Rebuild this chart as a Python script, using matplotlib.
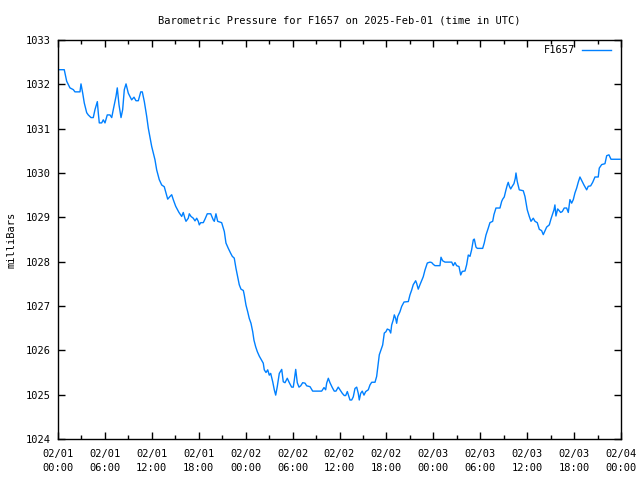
import matplotlib
matplotlib.use("Agg")
import matplotlib.pyplot as plt
import matplotlib.dates as mdates
import numpy as np
import pandas as pd

# Data: hours after 2025-02-01 00:00 UTC, pressure in millibars
hours = [0.00, 0.80, 1.11, 1.53, 1.96, 2.17, 2.81, 2.94, 3.16, 3.36, 3.67, 3.87, 4.22, 4.51,
         4.73, 5.03, 5.15, 5.28, 5.59, 5.79, 6.01, 6.30, 6.65, 6.87, 7.07, 7.42, 7.58, 7.80,
         8.06, 8.27, 8.48, 8.70, 8.99, 9.42, 9.72, 9.97, 10.27, 10.58, 10.78, 11.04, 11.34,
         11.55, 11.98, 12.40, 12.62, 12.95, 13.26, 13.59, 13.81, 14.03, 14.32, 14.54, 14.74,
         15.05, 15.47, 15.82, 16.02, 16.24, 16.37, 16.66, 16.79, 17.01, 17.30, 17.52, 17.74,
         17.94, 18.07, 18.25, 18.58, 18.80, 19.09, 19.53, 19.86, 19.99, 20.20, 20.42, 20.93,
         21.27, 21.48, 21.78, 22.08, 22.29, 22.54, 22.76, 22.98, 23.18, 23.40, 23.70, 23.82,
         24.04, 24.26, 24.46, 24.68, 24.90, 25.06, 25.28, 25.49, 25.74, 25.96, 26.25, 26.38,
         26.60, 26.82, 27.02, 27.20, 27.46, 27.66, 27.84, 28.04, 28.30, 28.61, 28.81, 29.03,
         29.32, 29.58, 29.88, 30.09, 30.22, 30.40, 30.60, 30.82, 31.04, 31.29, 31.59, 31.80,
         32.23, 32.57, 33.08, 33.72, 34.02, 34.23, 34.36, 34.57, 34.78, 35.08, 35.33, 35.55,
         35.84, 36.06, 36.36, 36.61, 36.79, 37.00, 37.21, 37.34, 37.56, 37.76, 37.98, 38.20,
         38.40, 38.53, 38.71, 38.91, 39.13, 39.35, 39.68, 39.90, 40.12, 40.54, 40.75, 40.88,
         41.09, 41.30, 41.52, 41.73, 41.94, 42.11, 42.37, 42.55, 42.67, 42.88, 43.01, 43.18,
         43.31, 43.44, 43.73, 43.95, 44.25, 44.80, 45.01, 45.23, 45.43, 45.74, 45.87, 46.07,
         46.29, 46.71, 46.93, 47.23, 47.57, 47.79, 47.99, 48.21, 48.85, 48.98, 49.19, 49.49,
         50.35, 50.55, 50.77, 50.98, 51.28, 51.50, 51.70, 52.05, 52.26, 52.47, 52.69, 52.90,
         53.11, 53.24, 53.45, 53.62, 54.31, 54.51, 54.73, 55.03, 55.24, 55.59, 55.75, 56.01,
         56.52, 56.74, 56.87, 57.07, 57.29, 57.46, 57.58, 57.71, 57.89, 58.09, 58.31, 58.48,
         58.57, 58.73, 58.99, 59.50, 59.72, 60.01, 60.27, 60.49, 60.78, 61.00, 61.29, 61.55,
         61.85, 62.06, 62.28, 62.49, 62.83, 63.04, 63.26, 63.43, 63.55, 63.68, 63.90, 64.10,
         64.28, 64.49, 64.74, 65.05, 65.26, 65.47, 65.69, 65.90, 66.11, 66.33, 66.53, 66.75,
         66.97, 67.26, 67.61, 67.81, 68.12, 68.38, 68.67, 69.09, 69.22, 69.53, 69.95, 70.17,
         70.46, 70.72, 71.87]
pressure = [1032.33, 1032.33, 1032.07, 1031.92, 1031.88, 1031.83, 1031.83, 1032.01, 1031.80,
            1031.58, 1031.36, 1031.31, 1031.25, 1031.25, 1031.43, 1031.61, 1031.36, 1031.13,
            1031.13, 1031.20, 1031.13, 1031.31, 1031.31, 1031.25, 1031.43, 1031.73, 1031.92,
            1031.54, 1031.25, 1031.43, 1031.88, 1032.01, 1031.80, 1031.65, 1031.71, 1031.63,
            1031.63, 1031.83, 1031.83, 1031.61, 1031.28, 1031.01, 1030.60, 1030.30, 1030.07,
            1029.85, 1029.73, 1029.69, 1029.55, 1029.41, 1029.47, 1029.51, 1029.40, 1029.25,
            1029.11, 1029.02, 1029.11, 1028.97, 1028.91, 1028.98, 1029.08, 1029.02, 1028.98,
            1028.92, 1028.98, 1028.91, 1028.83, 1028.88, 1028.88, 1028.96, 1029.08, 1029.08,
            1028.94, 1028.91, 1029.08, 1028.91, 1028.88, 1028.68, 1028.42, 1028.30, 1028.19,
            1028.12, 1028.08, 1027.85, 1027.66, 1027.48, 1027.38, 1027.35, 1027.25, 1027.02,
            1026.87, 1026.72, 1026.61, 1026.42, 1026.23, 1026.08, 1025.97, 1025.87, 1025.80,
            1025.71, 1025.56, 1025.50, 1025.56, 1025.44, 1025.48, 1025.29, 1025.11, 1024.99,
            1025.18, 1025.48, 1025.57, 1025.29, 1025.27, 1025.37, 1025.27, 1025.17, 1025.17,
            1025.33, 1025.57, 1025.27, 1025.17, 1025.20, 1025.27, 1025.26, 1025.20, 1025.18,
            1025.08, 1025.08, 1025.08, 1025.16, 1025.11, 1025.26, 1025.37, 1025.27, 1025.16,
            1025.08, 1025.08, 1025.17, 1025.11, 1025.03, 1024.98, 1024.98, 1025.07, 1024.95,
            1024.88, 1024.88, 1024.95, 1025.14, 1025.17, 1025.03, 1024.88, 1025.03, 1025.08,
            1024.99, 1025.07, 1025.11, 1025.22, 1025.28, 1025.28, 1025.41, 1025.60, 1025.90,
            1026.01, 1026.12, 1026.39, 1026.42, 1026.48, 1026.46, 1026.39, 1026.57, 1026.69,
            1026.80, 1026.72, 1026.61, 1026.76, 1026.87, 1026.99, 1027.09, 1027.10, 1027.25,
            1027.36, 1027.48, 1027.57, 1027.51, 1027.38, 1027.48, 1027.66, 1027.81, 1027.97,
            1027.99, 1027.98, 1027.94, 1027.91, 1027.91, 1028.10, 1028.02, 1027.99, 1027.99,
            1027.91, 1027.98, 1027.91, 1027.89, 1027.70, 1027.78, 1027.79, 1027.93, 1028.15,
            1028.12, 1028.27, 1028.49, 1028.51, 1028.33, 1028.30, 1028.30, 1028.42, 1028.60,
            1028.76, 1028.88, 1028.91, 1029.06, 1029.21, 1029.21, 1029.36, 1029.41, 1029.46,
            1029.62, 1029.73, 1029.79, 1029.71, 1029.64, 1029.70, 1029.76, 1029.88, 1030.00,
            1029.81, 1029.62, 1029.60, 1029.47, 1029.17, 1029.02, 1028.91, 1028.98, 1028.91,
            1028.88, 1028.73, 1028.70, 1028.61, 1028.70, 1028.78, 1028.83, 1028.96, 1029.08,
            1029.17, 1029.28, 1029.03, 1029.19, 1029.15, 1029.11, 1029.13, 1029.21, 1029.21,
            1029.11, 1029.40, 1029.32, 1029.40, 1029.55, 1029.66, 1029.79, 1029.91, 1029.83,
            1029.73, 1029.62, 1029.70, 1029.71, 1029.79, 1029.91, 1029.91, 1030.11, 1030.19,
            1030.21, 1030.39, 1030.41, 1030.31, 1030.31]

series_name = "F1657"
title = "Barometric Pressure for F1657 on 2025-Feb-01 (time in UTC)"
y_label = "milliBars"
start = pd.Timestamp("2025-02-01 00:00")
end = pd.Timestamp("2025-02-04 00:00")
y_min, y_max = 1024, 1033

times = start + pd.to_timedelta(hours, unit="h")

FONT = "DejaVu Sans Mono"
FS = 7.5

fig = plt.figure(figsize=(6.4, 4.8), dpi=100)
ax = fig.add_axes([58/640, 41/480, (621-58)/640, (439-40)/480])

ax.plot(times, pressure, color="#0080ff", linewidth=1.0, label=series_name)

ax.set_xlim(start, end)
ax.set_ylim(y_min, y_max)

ax.xaxis.set_major_locator(mdates.HourLocator(byhour=[0, 6, 12, 18]))
ax.xaxis.set_minor_locator(mdates.HourLocator(byhour=[3, 9, 15, 21]))
ax.xaxis.set_major_formatter(mdates.DateFormatter("%m/%d\n%H:%M"))
ax.set_yticks(np.arange(y_min, y_max + 1, 1))

ax.tick_params(axis="both", which="major", direction="in", length=5, width=1,
               top=True, right=True, labelsize=FS)
ax.tick_params(axis="x", which="major", pad=7)
ax.tick_params(axis="y", which="major", pad=5)
ax.tick_params(axis="both", which="minor", direction="in", length=3, width=1,
               top=True, right=True)
for lbl in ax.get_xticklabels() + ax.get_yticklabels():
    lbl.set_fontfamily(FONT)
    lbl.set_linespacing(1.5)

for s in ax.spines.values():
    s.set_linewidth(1.0)
    s.set_color("black")

ax.set_title(title, fontfamily=FONT, fontsize=FS, pad=12)
ax.set_ylabel(y_label, fontfamily=FONT, fontsize=FS, labelpad=7)

leg = ax.legend(loc="upper right", bbox_to_anchor=(1.0, 1.0 + 5/399),
                frameon=False, markerfirst=False,
                prop={"family": FONT, "size": FS}, handlelength=2.7,
                borderaxespad=0.6, handletextpad=0.7)

fig.savefig("out.png", dpi=100)
